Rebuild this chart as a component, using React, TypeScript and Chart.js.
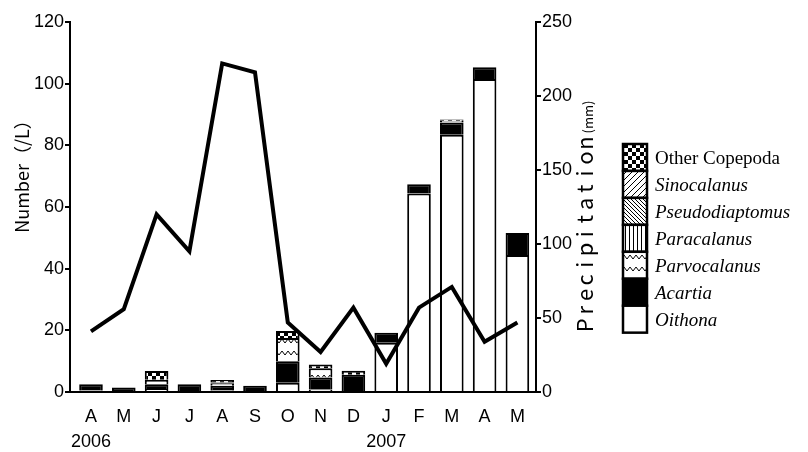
import { useEffect, useRef } from 'react';
import { Chart, registerables } from 'chart.js';

Chart.register(...registerables);

// ---- data ----
const months = ['A', 'M', 'J', 'J', 'A', 'S', 'O', 'N', 'D', 'J', 'F', 'M', 'A', 'M'];
const years = ['2006', '', '', '', '', '', '', '', '', '2007', '', '', '', ''];

const oithona = [0.5, 0.3, 1.0, 0.3, 0.5, 0.3, 3.0, 0.8, 0.3, 16.0, 64.4, 83.4, 101.5, 44.4];
const acartia = [2.0, 1.2, 1.5, 2.2, 1.5, 1.7, 7.0, 3.9, 5.3, 3.2, 3.0, 4.0, 3.8, 7.2];
const parvocalanus = [0, 0, 1.5, 0, 0.8, 0, 7.5, 3.0, 0, 0, 0, 0.6, 0, 0];
const paracalanus = [0, 0, 0, 0, 0.3, 0, 0, 0, 0, 0, 0, 0, 0, 0];
const pseudodiaptomus = [0, 0, 0, 0, 0, 0, 0, 0, 0, 0, 0, 0, 0, 0];
const sinocalanus = [0, 0, 0, 0, 0, 0, 0, 0, 0, 0, 0, 0, 0, 0];
const otherCopepoda = [0, 0, 2.8, 0, 0.8, 0, 2.3, 1.2, 1.3, 0, 0, 0.4, 0, 0];

const precipitation = [41, 56, 120, 95, 222, 216, 47, 27, 57, 19, 57, 71, 34, 47];

const numberTicks = { min: 0, max: 120, step: 20 };
const precipTicks = { min: 0, max: 250, step: 50 };

function tile(w: number, h: number, draw: (c: CanvasRenderingContext2D) => void): CanvasPattern | string {
  const cv = document.createElement('canvas');
  cv.width = w;
  cv.height = h;
  const c = cv.getContext('2d')!;
  c.fillStyle = '#fff';
  c.fillRect(0, 0, w, h);
  c.strokeStyle = '#000';
  c.fillStyle = '#000';
  draw(c);
  const ctx = document.createElement('canvas').getContext('2d')!;
  return ctx.createPattern(cv, 'repeat') || '#888';
}

function makePatterns() {
  const checker = tile(8, 8, (c) => {
    c.fillRect(0, 0, 4, 4);
    c.fillRect(4, 4, 4, 4);
  });
  const slash = tile(6, 6, (c) => {
    c.lineWidth = 1;
    c.beginPath();
    c.moveTo(-1, 7); c.lineTo(7, -1);
    c.moveTo(-1, 1); c.lineTo(1, -1);
    c.moveTo(5, 7); c.lineTo(7, 5);
    c.stroke();
  });
  const backslash = tile(4, 4, (c) => {
    c.lineWidth = 1;
    c.beginPath();
    c.moveTo(-1, -1); c.lineTo(5, 5);
    c.moveTo(3, -1); c.lineTo(5, 1);
    c.moveTo(-1, 3); c.lineTo(1, 5);
    c.stroke();
  });
  const vertical = tile(4, 4, (c) => {
    c.fillRect(1, 0, 1, 4);
  });
  const zigzag = tile(6, 12, (c) => {
    c.lineWidth = 1;
    c.beginPath();
    c.moveTo(0, 3); c.lineTo(3, 7); c.lineTo(6, 3);
    c.stroke();
  });
  return { checker, slash, backslash, vertical, zigzag, black: '#000', white: '#fff' };
}

export default function App() {
  const ref = useRef<HTMLCanvasElement>(null);

  useEffect(() => {
    const canvas = ref.current!;
    const p = makePatterns();

    const series = [
      { label: 'Oithona', data: oithona, fill: p.white, italic: true },
      { label: 'Acartia', data: acartia, fill: p.black, italic: true },
      { label: 'Parvocalanus', data: parvocalanus, fill: p.zigzag, italic: true },
      { label: 'Paracalanus', data: paracalanus, fill: p.vertical, italic: true },
      { label: 'Pseudodiaptomus', data: pseudodiaptomus, fill: p.backslash, italic: true },
      { label: 'Sinocalanus', data: sinocalanus, fill: p.slash, italic: true },
      { label: 'Other Copepoda', data: otherCopepoda, fill: p.checker, italic: false },
    ];

    const barDatasets = series.map((s) => ({
      type: 'bar' as const,
      label: s.label,
      data: s.data.map((v, i) => ({ x: i, y: v === 0 ? null : v })),
      backgroundColor: s.fill as any,
      borderColor: '#000',
      borderWidth: 2,
      borderSkipped: 'bottom' as any,
      barPercentage: 0.72,
      categoryPercentage: 1,
      xAxisID: 'x',
      yAxisID: 'y',
      order: 1,
    }));

    const lineDataset = {
      type: 'line' as const,
      label: 'Precipitation',
      data: precipitation.map((v, i) => ({ x: i, y: v })),
      borderColor: '#000',
      backgroundColor: '#000',
      borderWidth: 4,
      borderJoinStyle: 'miter' as const,
      pointRadius: 0,
      tension: 0,
      fill: false,
      xAxisID: 'x',
      yAxisID: 'y1',
      order: 0,
    };

    const overlay = {
      id: 'overlay',
      afterDraw(chart: any) {
        const ctx: CanvasRenderingContext2D = chart.ctx;
        ctx.save();
        // legend
        const lx = 623, lw = 24, top = 144, rh = 26.95;
        const items = series.slice().reverse();
        items.forEach((s, k) => {
          const y = top + k * rh;
          ctx.fillStyle = s.fill as any;
          ctx.fillRect(lx, y, lw, rh);
          ctx.strokeStyle = '#000';
          ctx.lineWidth = 2.5;
          ctx.strokeRect(lx, y, lw, rh);
          ctx.fillStyle = '#000';
          ctx.font = (s.italic ? 'italic ' : '') + '19px "Liberation Serif", "Times New Roman", serif';
          ctx.textAlign = 'left';
          ctx.textBaseline = 'middle';
          ctx.fillText(s.label, 655, y + rh / 2 + 1.5);
        });
        // left title
        ctx.fillStyle = '#000';
        ctx.save();
        ctx.translate(22, 172);
        ctx.rotate(-Math.PI / 2);
        ctx.font = '18px "Noto Sans CJK JP", sans-serif';
        ctx.textAlign = 'center';
        ctx.textBaseline = 'middle';
        ctx.fillText('Number（/L）', 0, 0);
        ctx.restore();
        // right title
        ctx.save();
        ctx.translate(593, 333);
        ctx.rotate(-Math.PI / 2);
        ctx.font = '22px "Noto Sans CJK JP", sans-serif';
        ctx.textAlign = 'center';
        ctx.textBaseline = 'alphabetic';
        const word = 'Precipitation';
        const step = 15.2;
        for (let i = 0; i < word.length; i++) {
          ctx.fillText(word[i], step * (i + 0.5), 0);
        }
        ctx.font = '13px "Noto Sans CJK JP", sans-serif';
        ctx.textAlign = 'left';
        ctx.fillText('(mm)', step * word.length + 2, 0);
        ctx.restore();
        ctx.restore();
      },
    };

    const tickFont = { family: '"Liberation Sans", Arial, sans-serif', size: 18 };

    const chart = new Chart(canvas, {
      type: 'bar',
      data: { datasets: [...barDatasets, lineDataset] as any },
      options: {
        animation: false,
        responsive: true,
        maintainAspectRatio: false,
        layout: { padding: { top: 22, left: 0, right: 0, bottom: 0 } },
        plugins: { legend: { display: false }, tooltip: { enabled: false } },
        scales: {
          x: {
            type: 'linear',
            stacked: true,
            offset: false,
            min: -0.64,
            max: 13.567,
            grid: { display: false },
            border: { display: true, color: '#000', width: 2 },
            afterBuildTicks: (scale: any) => {
              scale.ticks = months.map((_, i) => ({ value: i }));
            },
            afterFit: (scale: any) => {
              scale.height = 60;
            },
            ticks: {
              autoSkip: false,
              maxRotation: 0,
              color: '#000',
              padding: 5,
              font: { ...tickFont, lineHeight: 1.39 },
              callback: (v: any) => {
                const i = Math.round(Number(v));
                return years[i] ? [months[i], years[i]] : months[i];
              },
            },
          },
          y: {
            type: 'linear',
            position: 'left',
            stacked: true,
            min: numberTicks.min,
            max: numberTicks.max,
            grid: { drawOnChartArea: false, color: '#000', lineWidth: 2, tickLength: 5 },
            border: { display: true, color: '#000', width: 2 },
            afterFit: (scale: any) => {
              scale.width = 70;
            },
            ticks: { stepSize: numberTicks.step, color: '#000', padding: 1, font: tickFont },
          },
          y1: {
            type: 'linear',
            position: 'right',
            min: precipTicks.min,
            max: precipTicks.max,
            grid: { drawOnChartArea: false, color: '#000', lineWidth: 2, tickLength: 5 },
            border: { display: true, color: '#000', width: 2 },
            afterFit: (scale: any) => {
              scale.width = 808 - 536;
            },
            ticks: { stepSize: precipTicks.step, color: '#000', padding: 1, font: tickFont },
          },
        },
      } as any,
      plugins: [overlay],
    });

    return () => chart.destroy();
  }, []);

  return (
    <div style={{ position: 'absolute', left: 0, top: 0, width: 808, height: 452, background: '#fff' }}>
      <canvas ref={ref} style={{ display: 'block' }} />
    </div>
  );
}
